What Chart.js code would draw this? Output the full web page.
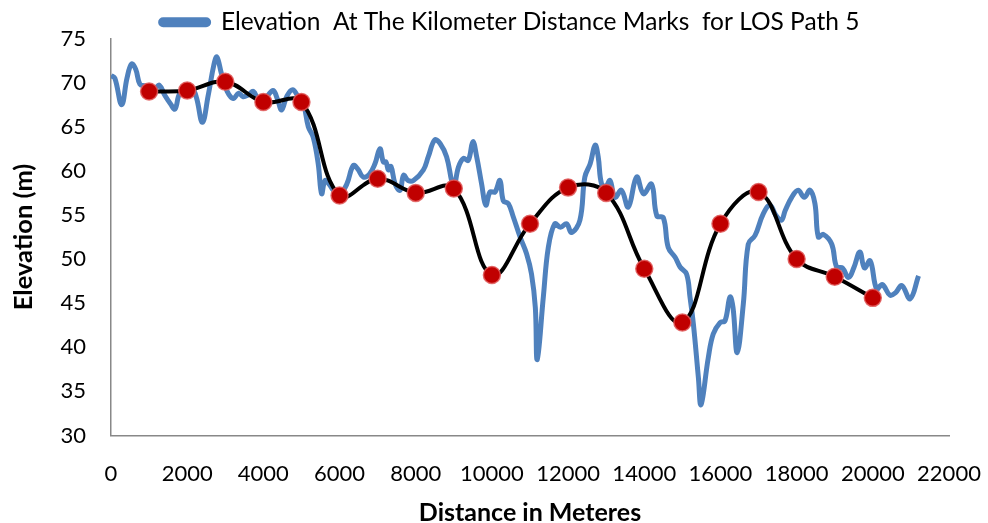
<!DOCTYPE html>
<html>
<head>
<meta charset="utf-8">
<script src="https://cdn.jsdelivr.net/npm/chart.js@4.4.1/dist/chart.umd.min.js"></script>
<style>
  html, body { margin: 0; padding: 0; background: #fff; }
  #losChart { display: block; }
</style>
</head>
<body>
<canvas id="losChart" width="988" height="523"></canvas>
<script>
// elevation profile along the path (metres, metres)
const profileDistance = [0, 100, 280, 420, 540, 650, 760, 900, 1050, 1160, 1270, 1420, 1560, 1680, 1810, 2000, 2150, 2250, 2400, 2550, 2700, 2780, 2900, 3050, 3210, 3350, 3470, 3600, 3740, 3870, 4000, 4130, 4260, 4380, 4480, 4620, 4770, 4900, 5050, 5180, 5310, 5440, 5530, 5620, 5740, 5840, 6000, 6190, 6360, 6480, 6620, 6780, 6930, 7060, 7150, 7220, 7280, 7350, 7460, 7590, 7680, 7800, 7940, 8200, 8330, 8500, 8640, 8810, 8940, 9000, 9120, 9250, 9380, 9500, 9600, 9730, 9840, 9950, 10080, 10210, 10300, 10430, 10560, 10740, 10910, 11040, 11140, 11190, 11350, 11480, 11650, 11800, 11960, 12090, 12310, 12440, 12580, 12710, 12790, 12880, 13000, 13100, 13230, 13400, 13580, 13800, 13980, 14190, 14330, 14500, 14630, 14810, 14940, 15110, 15200, 15290, 15420, 15490, 15680, 15810, 15990, 16120, 16250, 16330, 16440, 16600, 16730, 16910, 17120, 17300, 17450, 17600, 17700, 17870, 18040, 18200, 18350, 18480, 18570, 18700, 18920, 19050, 19200, 19360, 19500, 19660, 19780, 19930, 20100, 20250, 20450, 20600, 20760, 20980, 21200];
const profileElevation = [70.8, 70.5, 67.5, 70.5, 72.1, 71.5, 69.8, 69.6, 69.0, 69.3, 69.7, 68.5, 67.6, 67.0, 68.8, 69.0, 69.2, 68.2, 65.5, 68.5, 72.0, 72.9, 71.0, 69.0, 68.2, 68.8, 68.4, 68.6, 69.0, 68.0, 67.8, 68.6, 69.1, 68.0, 66.9, 68.5, 69.2, 68.5, 67.6, 65.0, 63.8, 60.8, 57.4, 58.9, 58.4, 57.8, 57.3, 58.5, 60.6, 60.2, 59.3, 59.6, 60.8, 62.5, 61.0, 61.0, 60.1, 60.5, 58.5, 57.8, 59.5, 58.9, 58.9, 60.1, 61.6, 63.5, 63.1, 61.6, 58.9, 58.0, 60.4, 61.4, 61.2, 63.3, 61.6, 58.5, 56.1, 57.6, 57.6, 58.9, 56.6, 56.3, 54.8, 52.5, 50.6, 48.3, 44.5, 38.6, 45.7, 51.3, 54.0, 53.6, 54.0, 53.0, 54.4, 59.3, 60.8, 62.9, 61.6, 58.5, 58.3, 58.9, 57.0, 57.8, 55.9, 59.3, 57.4, 58.5, 54.9, 54.7, 51.3, 50.2, 49.1, 48.3, 45.7, 42.6, 36.6, 33.5, 38.8, 41.5, 42.8, 43.0, 45.7, 44.5, 39.4, 44.9, 51.7, 52.7, 55.1, 56.1, 55.0, 54.4, 55.5, 57.0, 57.8, 57.0, 57.8, 56.3, 52.5, 52.8, 51.7, 49.1, 49.0, 47.9, 49.0, 50.8, 49.0, 49.8, 46.6, 47.1, 45.9, 46.2, 47.0, 45.5, 48.1];

// elevation read at each kilometre mark
const kmDistance = [1000, 2000, 3000, 4000, 5000, 6000, 7000, 8000, 9000, 10000, 11000, 12000, 13000, 14000, 15000, 16000, 17000, 18000, 19000, 20000];
const kmElevation = [69.0, 69.1, 70.1, 67.8, 67.8, 57.2, 59.1, 57.5, 58.0, 48.2, 54.0, 58.1, 57.5, 48.9, 42.8, 54.0, 57.6, 50.0, 48.0, 45.6];

const legendText = 'Elevation  At The Kilometer Distance Marks  for LOS Path 5';

const toPoints = (xs, ys) => xs.map((x, i) => ({ x: x, y: ys[i] }));

const fontFamily = 'Lato, "Open Sans", sans-serif';

// nudge the legend a little left of the plot centre, as in the original
const legendShift = {
  id: 'legendShift',
  afterLayout(chart) {
    chart.legend.left -= 20;
    chart.legend.right -= 20;
  }
};

new Chart(document.getElementById('losChart'), {
  type: 'line',
  data: {
    datasets: [{
      label: 'km marks',
      data: toPoints(kmDistance, kmElevation),
      borderColor: '#000000',
      borderWidth: 4,
      tension: 0.4,
      pointRadius: 8.5,
      pointBackgroundColor: '#C00000',
      pointBorderColor: 'rgba(225, 90, 90, 0.85)',
      pointBorderWidth: 1.5,
      order: 0
    }, {
      label: legendText,
      data: toPoints(profileDistance, profileElevation),
      borderColor: '#4F81BD',
      backgroundColor: '#4F81BD',
      borderWidth: 5,
      tension: 0.4,
      pointRadius: 0,
      order: 1
    }]
  },
  plugins: [legendShift],
  options: {
    responsive: false,
    animation: false,
    devicePixelRatio: 1,
    layout: {
      padding: { left: 4, right: 39, top: 9, bottom: 0 }
    },
    plugins: {
      legend: {
        position: 'top',
        fullSize: false,
        maxHeight: 29.5,
        labels: {
          filter: (item) => item.text === legendText,
          color: '#000',
          boxWidth: 48,
          boxHeight: 5,
          useBorderRadius: true,
          borderRadius: 2.5,
          padding: 1,
          font: { family: fontFamily, size: 24.5 }
        }
      },
      tooltip: { enabled: false }
    },
    scales: {
      x: {
        type: 'linear',
        min: 0,
        max: 22000,
        grid: { display: false },
        border: { display: true, color: '#888888', width: 1.5 },
        ticks: {
          stepSize: 2000,
          autoSkip: false,
          maxRotation: 0,
          color: '#000',
          padding: 17,
          font: { family: fontFamily, size: 22 },
          callback: (value) => String(value)
        },
        title: {
          display: true,
          text: 'Distance in Meteres',
          color: '#000',
          padding: { top: 0, bottom: -2 },
          font: { family: fontFamily, size: 25, weight: 'bold', lineHeight: 1 }
        },
        afterFit: (scale) => {
          scale.height = 87.5;
          scale.paddingRight = 0;
        }
      },
      y: {
        min: 30,
        max: 75,
        grid: { display: false },
        border: { display: true, color: '#888888', width: 1.5 },
        ticks: {
          stepSize: 5,
          color: '#000',
          padding: 17,
          font: { family: fontFamily, size: 22 }
        },
        title: {
          display: true,
          text: 'Elevation (m)',
          color: '#000',
          padding: { top: 4, bottom: 4 },
          font: { family: fontFamily, size: 25.5, weight: 'bold' }
        },
        afterFit: (scale) => { scale.width = 107; }
      }
    }
  }
});
</script>
</body>
</html>
